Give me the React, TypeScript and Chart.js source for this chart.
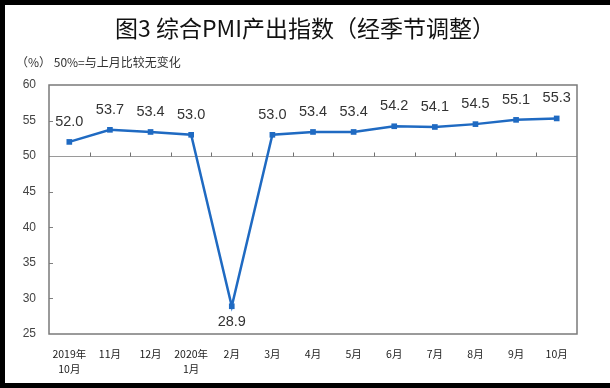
import React, { useEffect, useRef } from "react";
import { Chart, registerables } from "chart.js";

Chart.register(...registerables);

const categories: (string | string[])[] = [
  ["2019年", "10月"],
  "11月",
  "12月",
  ["2020年", "1月"],
  "2月",
  "3月",
  "4月",
  "5月",
  "6月",
  "7月",
  "8月",
  "9月",
  "10月",
];
const pmiOutput: number[] = [52.0, 53.7, 53.4, 53.0, 28.9, 53.0, 53.4, 53.4, 54.2, 54.1, 54.5, 55.1, 55.3];
const yMin = 25;
const yMax = 60;
const yStep = 5;
const baseline = 50;
const titleText = "图3 综合PMI产出指数（经季节调整）";
const subtitleText = "（%） 50%=与上月比较无变化";

const LINE_COLOR = "#1f6ac2";

const framePlugin = {
  id: "frameAndBaseline",
  beforeDatasetsDraw(chart: any) {
    const { ctx, chartArea, scales } = chart;
    const { left, right, top, bottom } = chartArea;
    const y = scales.y;
    const x = scales.x;
    ctx.save();
    ctx.strokeStyle = "#808080";
    ctx.lineWidth = 1;
    for (let v = yMin + yStep; v < yMax; v += yStep) {
      const py = Math.round(y.getPixelForValue(v)) + 0.5;
      ctx.beginPath();
      ctx.moveTo(left, py);
      ctx.lineTo(left + 4, py);
      ctx.stroke();
    }
    const yb = Math.round(y.getPixelForValue(baseline)) + 0.5;
    ctx.strokeStyle = "#9a9a9a";
    ctx.beginPath();
    ctx.moveTo(left, yb);
    ctx.lineTo(right, yb);
    ctx.stroke();
    ctx.strokeStyle = "#707070";
    for (let i = 1; i < categories.length; i++) {
      const px = Math.round((x.getPixelForValue(i - 1) + x.getPixelForValue(i)) / 2) + 0.5;
      ctx.beginPath();
      ctx.moveTo(px, yb - 4);
      ctx.lineTo(px, yb);
      ctx.stroke();
    }
    ctx.strokeStyle = "#7a7a7a";
    ctx.lineWidth = 1.5;
    ctx.strokeRect(left, top, right - left, bottom - top);
    ctx.restore();
  },
};

const labelPlugin = {
  id: "valueLabels",
  afterDatasetsDraw(chart: any) {
    const { ctx } = chart;
    const meta = chart.getDatasetMeta(0);
    ctx.save();
    ctx.font = "14.5px 'Liberation Sans', Arial, sans-serif";
    ctx.fillStyle = "#333333";
    ctx.textAlign = "center";
    ctx.textBaseline = "middle";
    meta.data.forEach((pt: any, i: number) => {
      const v = pmiOutput[i];
      const below = v < baseline;
      ctx.fillText(v.toFixed(1), pt.x, below ? pt.y + 16 : pt.y - 20);
    });
    ctx.restore();
  },
};

export default function App() {
  const canvasRef = useRef<HTMLCanvasElement | null>(null);

  useEffect(() => {
    if (!canvasRef.current) return;
    const chart = new Chart(canvasRef.current, {
      type: "line",
      data: {
        labels: categories,
        datasets: [
          {
            data: pmiOutput,
            borderColor: LINE_COLOR,
            backgroundColor: LINE_COLOR,
            borderWidth: 2.5,
            pointStyle: "rect",
            pointRadius: 4,
            pointBorderWidth: 0,
            tension: 0,
          },
        ],
      },
      options: {
        animation: false,
        responsive: false,
        maintainAspectRatio: false,
        layout: { padding: { top: 85, left: 5, right: 33, bottom: 5 } },
        plugins: {
          legend: { display: false },
          title: { display: false },
          tooltip: { enabled: false },
        },
        scales: {
          x: {
            type: "category",
            offset: true,
            grid: { display: false, drawTicks: false },
            border: { display: false },
            ticks: {
              autoSkip: false,
              maxRotation: 0,
              minRotation: 0,
              padding: 13,
              color: "#222222",
              font: { family: "'Noto Sans CJK SC', sans-serif", size: 10.5, lineHeight: 1.4 },
            },
            afterFit: (scale: any) => {
              scale.height = 49;
            },
          },
          y: {
            min: yMin,
            max: yMax,
            grid: { display: false, drawTicks: false },
            border: { display: false },
            ticks: {
              stepSize: yStep,
              padding: 13,
              color: "#444444",
              font: { family: "'Liberation Sans', Arial, sans-serif", size: 12 },
            },
            afterFit: (scale: any) => {
              scale.width = 44;
            },
          },
        },
      },
      plugins: [framePlugin, labelPlugin],
    });
    return () => chart.destroy();
  }, []);

  return (
    <div
      style={{
        position: "absolute",
        left: 0,
        top: 0,
        width: 610,
        height: 388,
        boxSizing: "border-box",
        borderLeft: "5px solid #000",
        borderTop: "5px solid #000",
        borderBottom: "5px solid #000",
        background: "#fff",
      }}
    >
      <canvas
        ref={canvasRef}
        width={610}
        height={388}
        style={{ position: "absolute", left: -5, top: -5, width: 610, height: 388 }}
      />
      <div
        style={{
          position: "absolute",
          left: -5,
          top: 7,
          width: 610,
          textAlign: "center",
          fontFamily: "'Noto Sans CJK SC', sans-serif",
          fontSize: 23,
          fontWeight: 400,
          lineHeight: "30px",
          color: "#111",
          whiteSpace: "nowrap",
        }}
      >
        {titleText}
      </div>
      <div
        style={{
          position: "absolute",
          left: 11,
          top: 49,
          fontFamily: "'Noto Sans CJK SC', sans-serif",
          fontSize: 12,
          lineHeight: "16px",
          color: "#333",
          whiteSpace: "nowrap",
        }}
      >
        {subtitleText}
      </div>
    </div>
  );
}
